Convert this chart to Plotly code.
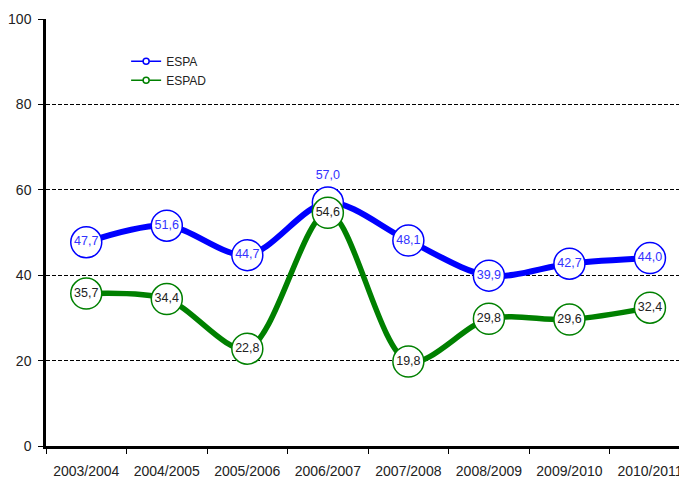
import plotly.graph_objects as go

categories = ["2003/2004", "2004/2005", "2005/2006", "2006/2007",
              "2007/2008", "2008/2009", "2009/2010", "2010/2011"]
espa = [47.7, 51.6, 44.7, 57.0, 48.1, 39.9, 42.7, 44.0]
espad = [35.7, 34.4, 22.8, 54.6, 19.8, 29.8, 29.6, 32.4]
y_ticks = [0, 20, 40, 60, 80, 100]

BLUE = "#0000FF"
GREEN = "#008000"
FONT = "Liberation Sans, Arial, sans-serif"


def fmt(v):
    return f"{v:.1f}".replace(".", ",")


espa_pos = ["top center" if v == max(espa) else "middle center" for v in espa]

fig = go.Figure()
# lines
fig.add_trace(go.Scatter(x=categories, y=espa, mode="lines",
                         line=dict(color=BLUE, width=6, shape="spline", smoothing=0.9),
                         showlegend=False, hoverinfo="skip"))
fig.add_trace(go.Scatter(x=categories, y=espad, mode="lines",
                         line=dict(color=GREEN, width=5.5, shape="spline", smoothing=0.9),
                         showlegend=False, hoverinfo="skip"))
# markers with labels
fig.add_trace(go.Scatter(x=categories, y=espa, mode="markers+text",
                         marker=dict(size=31, color="white", line=dict(color=BLUE, width=1.5)),
                         text=[fmt(v) for v in espa], textposition=espa_pos,
                         textfont=dict(family=FONT, size=12.5, color="#3333FF"),
                         showlegend=False))
fig.add_trace(go.Scatter(x=categories, y=espad, mode="markers+text",
                         marker=dict(size=31, color="white", line=dict(color=GREEN, width=1.5)),
                         text=[fmt(v) for v in espad], textposition="middle center",
                         textfont=dict(family=FONT, size=12.5, color="#222222"),
                         showlegend=False))
# legend entries
fig.add_trace(go.Scatter(x=[None], y=[None], mode="lines+markers", name="ESPA",
                         line=dict(color=BLUE, width=1.5),
                         marker=dict(size=6, color="white", line=dict(color=BLUE, width=1.5))))
fig.add_trace(go.Scatter(x=[None], y=[None], mode="lines+markers", name="ESPAD",
                         line=dict(color=GREEN, width=1.5),
                         marker=dict(size=6, color="white", line=dict(color=GREEN, width=1.5))))

fig.update_layout(
    width=679, height=471,
    margin=dict(l=38, r=0, t=11, b=33),
    paper_bgcolor="white", plot_bgcolor="white",
    font=dict(family=FONT, color="#222222"),
    legend=dict(x=0.125, y=0.935, xanchor="left", yanchor="top",
                bgcolor="rgba(0,0,0,0)", font=dict(size=12, color="#222222"),
                tracegroupgap=0),
)
fig.update_xaxes(type="category", categoryorder="array", categoryarray=categories,
                 range=[-0.5, 7.46], showline=True, linecolor="black", linewidth=2.5,
                 ticks="outside", tickson="boundaries", ticklen=5, tickcolor="black",
                 showgrid=False, tickfont=dict(size=14, color="#222222"),
                 ticklabelstandoff=10, automargin=False)
fig.update_yaxes(range=[0, 100], tickvals=y_ticks, showline=True, linecolor="black",
                 linewidth=2.5, ticks="outside", ticklen=5, tickcolor="black",
                 showgrid=True, gridcolor="black", gridwidth=1, griddash="4px,2px",
                 zeroline=False, tickfont=dict(size=14, color="#222222"),
                 ticklabelstandoff=4, automargin=False)

fig.write_html("out.html")
